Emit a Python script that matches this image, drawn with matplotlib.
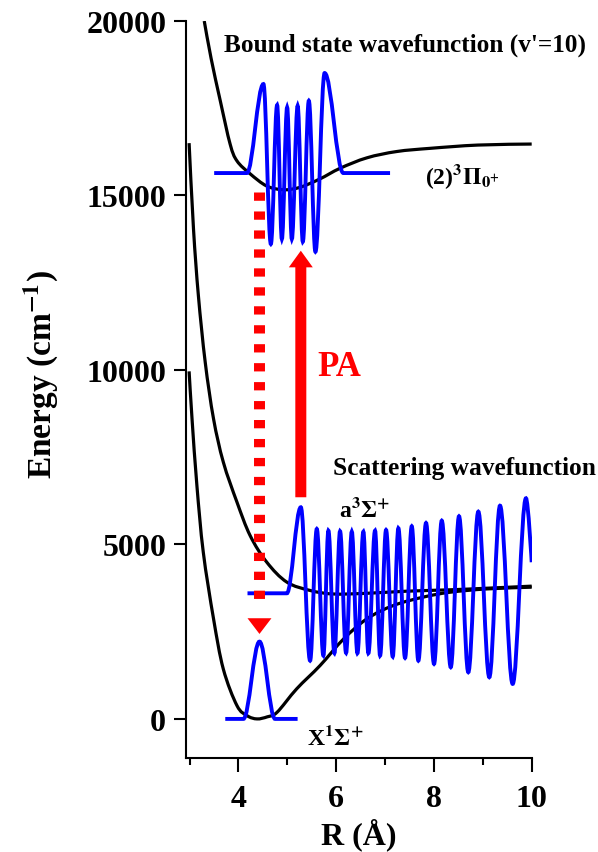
import matplotlib
matplotlib.use("Agg")
import matplotlib.pyplot as plt
from matplotlib.path import Path
from matplotlib.patches import PathPatch

plt.rcParams["font.family"] = ["Liberation Serif", "DejaVu Serif"]
plt.rcParams["font.weight"] = "bold"
plt.rcParams["mathtext.fontset"] = "stix"

# potential curves (R in Angstrom, energy in cm^-1)
upper_R = [3.30, 3.44, 3.63, 3.83, 3.97, 4.24, 4.58, 4.92, 5.25, 5.66, 6.08, 6.63, 7.24, 7.92, 8.90, 10.0]
upper_E = [20000, 18930, 17700, 16470, 15990, 15620, 15270, 15165, 15230, 15470, 15780, 16080, 16260, 16351, 16445, 16474]

a3_R = [2.99, 3.08, 3.18, 3.32, 3.49, 3.69, 3.97, 4.24, 4.58, 4.99, 5.47, 5.94, 6.63, 7.44, 8.33, 9.08, 10.0]
a3_E = [16500, 14040, 12130, 10220, 8600, 7360, 6210, 5250, 4490, 3920, 3680, 3580, 3600, 3660, 3700, 3745, 3805]

x1_R = [2.99, 3.05, 3.15, 3.28, 3.49, 3.69, 3.97, 4.18, 4.38, 4.59, 4.79, 5.19, 5.67, 6.15, 6.63, 7.17, 7.78, 8.33, 9.08, 10.0]
x1_E = [9960, 8600, 6680, 4780, 2870, 1430, 380, 90, 0, 60, 190, 860, 1530, 2290, 2870, 3250, 3490, 3630, 3725, 3775]

# wavefunctions: turning points (baseline ends, peaks, troughs)
bound_R = [3.503, 4.172, 4.511, 4.663, 4.791, 4.888, 4.996, 5.092, 5.211, 5.317, 5.440, 5.575, 5.763, 6.147, 7.102]
bound_E = [15643, 15643, 18193, 13609, 17591, 13752, 17525, 13752, 17571, 13675, 17714, 13388, 18508, 15643, 15643]

scat_R = [4.185, 4.99, 5.276, 5.466, 5.603, 5.738, 5.840, 5.963, 6.079, 6.202, 6.319, 6.434,
          6.556, 6.658, 6.795, 6.898, 7.020, 7.157, 7.272, 7.409, 7.546, 7.681, 7.838, 8.002,
          8.160, 8.344, 8.513, 8.703, 8.908, 9.133, 9.352, 9.611, 9.883, 10.0]
scat_E = [3600, 3600, 6065, 1670, 5444, 1814, 5395, 1882, 5378, 1891, 5366, 1882,
          5366, 1882, 5395, 1814, 5415, 1785, 5464, 1748, 5521, 1670, 5615, 1576,
          5681, 1481, 5807, 1338, 5939, 1195, 6111, 1003, 6323, 4490]

ground_R = [3.73, 4.10, 4.43, 4.75, 5.21]
ground_E = [0, 0, 2215, 0, 0]

# transitions
pa_R, pa_from, pa_to = 5.276, 6352, 13417
decay_R, decay_from, decay_head, decay_to = 4.43, 15090, 2885, 2435


def wave_path(xs, ys, free_end=False):
    # smooth curve through turning points, flat tangent at each one
    verts = [(xs[0], ys[0])]
    codes = [Path.MOVETO]
    for i in range(1, len(xs)):
        x0, y0, x1, y1 = xs[i - 1], ys[i - 1], xs[i], ys[i]
        d = 0.3634 * (x1 - x0)
        c2 = (x1 - d, y1)
        if free_end and i == len(xs) - 1:
            c2 = (x1, y1)
        verts += [(x0 + d, y0), c2, (x1, y1)]
        codes += [Path.CURVE4] * 3
    return Path(verts, codes)


def smooth_path(xs, ys):
    # catmull-rom style bezier through the read points
    pts = list(zip(xs, ys))
    verts = [pts[0]]
    codes = [Path.MOVETO]
    for i in range(len(pts) - 1):
        p0 = pts[i - 1] if i > 0 else pts[i]
        p1, p2 = pts[i], pts[i + 1]
        p3 = pts[i + 2] if i + 2 < len(pts) else p2
        c1 = (p1[0] + (p2[0] - p0[0]) / 6, p1[1] + (p2[1] - p0[1]) / 6)
        c2 = (p2[0] - (p3[0] - p1[0]) / 6, p2[1] - (p3[1] - p1[1]) / 6)
        verts += [c1, c2, p2]
        codes += [Path.CURVE4] * 3
    return Path(verts, codes)


fig = plt.figure(figsize=(5.98, 8.53), dpi=100)
ax = fig.add_axes([0.3105, 0.1102, 0.5786, 0.864])

for R, E in [(upper_R, upper_E), (a3_R, a3_E), (x1_R, x1_E)]:
    ax.add_patch(PathPatch(smooth_path(R, E), fill=False, edgecolor="black", lw=2.3))

for R, E, free in [(bound_R, bound_E, False), (scat_R, scat_E, True), (ground_R, ground_E, False)]:
    ax.add_patch(PathPatch(wave_path(R, E, free), fill=False, edgecolor="blue", lw=2.8))

# PA arrow (solid) and decay arrow (dotted)
ax.arrow(pa_R, pa_from, 0, pa_to - pa_from, width=0.225, head_width=0.49, head_length=476,
         length_includes_head=True, color="red", lw=0)
ax.plot([decay_R, decay_R], [decay_from, 3409], color="red", lw=7.9,
        linestyle=(0, (0.755, 0.973)), dash_capstyle="butt")
ax.arrow(decay_R, decay_head, 0, decay_to - decay_head, width=0.001, head_width=0.49,
         head_length=decay_head - decay_to, length_includes_head=True, color="red", lw=0)

ax.text(3.708, 19339, "Bound state wavefunction (v'=10)", fontsize=18.2, va="center", ha="left")
ax.text(5.943, 7019, "Scattering wavefunction", fontsize=18.3, va="baseline", ha="left")
ax.text(6.06, 10085, "PA", fontsize=25, color="red", va="center", ha="center")
ax.text(6.06, 5816, r"a$^{\mathbf{3}}\Sigma^{+}$", fontsize=17, va="baseline", ha="left")
ax.text(5.40, -716, r"X$^{\mathbf{1}}\Sigma^{+}$", fontsize=17, va="baseline", ha="left")
ax.text(7.818, 15356, r"(2)$^{\mathbf{3}}\Pi_{\mathbf{0}^{+}}$", fontsize=17, va="baseline", ha="left")

ax.set_xlim(2.92, 10.0)
ax.set_ylim(-1120, 20000)
ax.set_xticks([4, 6, 8, 10])
ax.set_xticks([3, 5, 7, 9], minor=True)
ax.set_yticks([0, 5000, 10000, 15000, 20000])
for side in ["top", "right"]:
    ax.spines[side].set_visible(False)
for side in ["left", "bottom"]:
    ax.spines[side].set_linewidth(1.5)
ax.tick_params(axis="both", which="both", direction="out", width=1.5, labelsize=23)
ax.tick_params(axis="x", which="major", length=10, pad=9)
ax.tick_params(axis="x", which="minor", length=5)
ax.tick_params(axis="y", which="major", length=9, pad=5)

ax.set_xlabel("R (Å)", fontsize=23, fontweight="bold")
ax.set_ylabel(r"Energy (cm$^{\mathbf{-1}}$)", fontsize=24, fontweight="bold")
ax.xaxis.set_label_coords(0.5, -0.08)
ax.yaxis.set_label_coords(-0.363, 0.521)

fig.savefig("out.png", dpi=100)
